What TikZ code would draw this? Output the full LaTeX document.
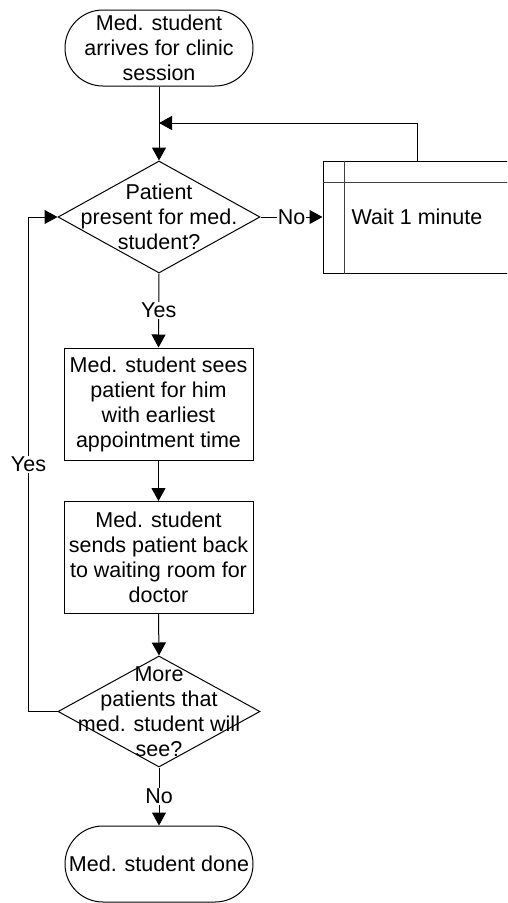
\documentclass[tikz,border=0pt]{standalone}
\usepackage{fontspec}
\setmainfont{Liberation Sans}
\usetikzlibrary{shapes.geometric,arrows.meta}
\begin{document}
\begin{tikzpicture}[x=1pt,y=-1pt,
  every node/.style={font=\fontsize{21.5}{25}\selectfont, align=center},
  box/.style={draw, rectangle, minimum width=189pt, minimum height=112pt, inner sep=0pt, line width=1pt},
  term/.style={draw, rectangle, rounded corners=37.9pt, minimum width=188pt, minimum height=76pt, inner sep=0pt, line width=1pt},
  dec/.style={draw, diamond, minimum width=202pt, minimum height=112pt, inner sep=0pt, line width=1pt},
  conn/.style={line width=1pt},
  arr/.style={conn, -{Triangle[length=13pt,width=14pt]}},
  lbl/.style={fill=white, inner sep=1pt}]
\useasboundingbox (0,0) rectangle (507,903);
\clip (0,0) rectangle (507,903);
\node[term] (start) at (159,48) {Med. student\\arrives for clinic\\session};
\node[dec] (d1) at (159,217) {};
\node (d1t) at (159,217) {Patient\\present for med.\\student?};
\node[box, minimum width=188pt, minimum height=112pt] (wait) at (417,217) {Wait 1 minute};
\draw[line width=1pt, black!75] ([xshift=22pt]wait.north west) -- ([xshift=22pt]wait.south west);
\draw[line width=1pt, black!75] ([yshift=-22pt]wait.north west) -- ([yshift=-22pt]wait.north east);
\node[box] (b1) at (158.5,404) {Med. student sees\\patient for him\\with earliest\\appointment time};
\node[box] (b2) at (158.5,557.5) {Med. student\\sends patient back\\to waiting room for\\doctor};
\node[dec, minimum height=111pt] (d2) at (159,711.5) {};
\node (d2t) at (159,711.5) {More\\patients that\\med. student will\\see?};
\node[term] (end) at (159,864) {Med. student done};
\coordinate (j) at (159,123);
\draw[arr] (start.south) -- (d1.north);
\draw[arr] (wait.north) |- (j);
\draw[arr] (d1.east) -- node[lbl] (lno1) {No} (wait.west);
\draw[arr] (d1.south) -- node[lbl] (lyes1) {Yes} (b1.north);
\draw[arr] (b1.south) -- (b2.north);
\draw[arr] (b2.south) -- (d2.north);
\draw[arr] (d2.south) -- node[lbl] (lno2) {No} (end.north);
\draw[arr] (d2.west) -- ++(-29,0) |- node[lbl, pos=0.25] (lyes2) {Yes} (d1.west);
\end{tikzpicture}
\end{document}
